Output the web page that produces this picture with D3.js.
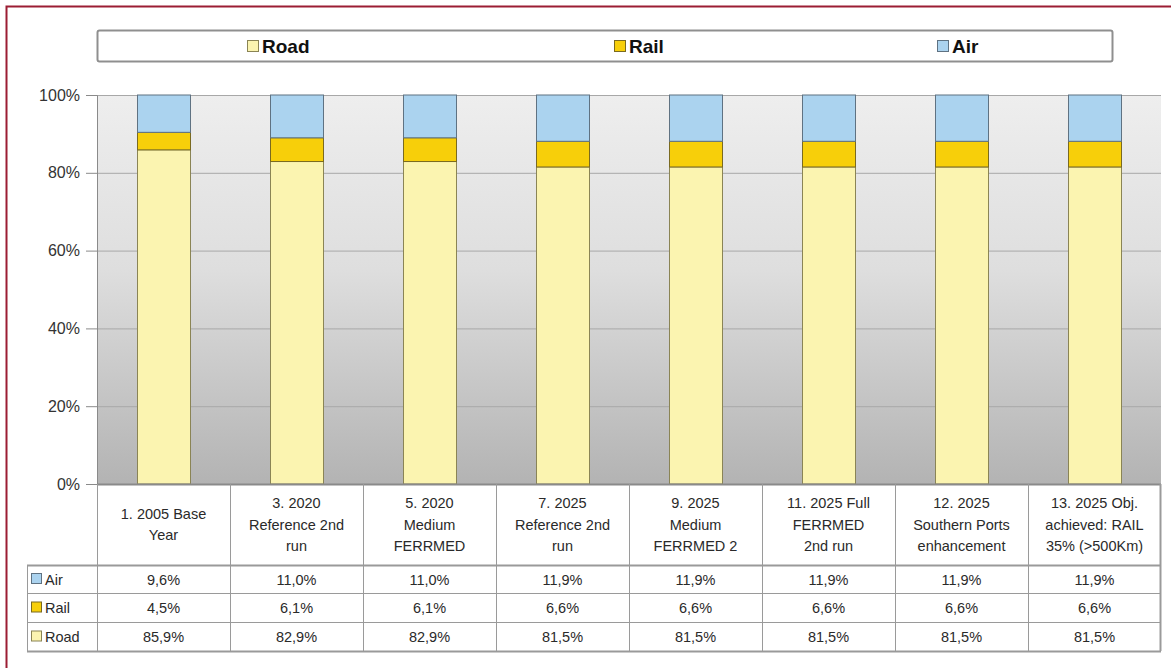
<!DOCTYPE html>
<html>
<head>
<meta charset="utf-8">
<script src="https://cdn.jsdelivr.net/npm/d3@7"></script>
<style>
  body { margin: 0; background: #fff; }
  svg { display: block; font-family: "Liberation Sans", Arial, sans-serif; }
</style>
</head>
<body>
<div id="chart"></div>
<script>
var categories = [
  ["1. 2005 Base", "Year"],
  ["3. 2020", "Reference 2nd", "run"],
  ["5. 2020", "Medium", "FERRMED"],
  ["7. 2025", "Reference 2nd", "run"],
  ["9. 2025", "Medium", "FERRMED 2"],
  ["11. 2025 Full", "FERRMED", "2nd run"],
  ["12. 2025", "Southern Ports", "enhancement"],
  ["13. 2025 Obj.", "achieved: RAIL", "35% (>500Km)"]
];
var road = [85.9, 82.9, 82.9, 81.5, 81.5, 81.5, 81.5, 81.5];
var rail = [4.5, 6.1, 6.1, 6.6, 6.6, 6.6, 6.6, 6.6];
var air  = [9.6, 11.0, 11.0, 11.9, 11.9, 11.9, 11.9, 11.9];
var seriesNames = ["Road", "Rail", "Air"];
var yTicks = [0, 20, 40, 60, 80, 100];

var colors = { Road: "#fbf4b0", Rail: "#f7cf0a", Air: "#abd3ef" };
var strokes = { Road: "#8a8455", Rail: "#7a6a20", Air: "#5f7282" };

var W = 1171, H = 668;
var plotL = 97, plotR = 1161, plotT = 95, plotB = 484;

var svg = d3.select("#chart").append("svg").attr("width", W).attr("height", H);

// frame
svg.append("path").attr("d", "M6.5," + H + " V6.5 H" + W)
  .attr("fill", "none").attr("stroke", "#9b1d33").attr("stroke-width", 2);

var defs = svg.append("defs");
var grad = defs.append("linearGradient").attr("id", "bg").attr("x1", 0).attr("y1", 0).attr("x2", 0).attr("y2", 1);
grad.append("stop").attr("offset", "0%").attr("stop-color", "#eeeeee");
grad.append("stop").attr("offset", "45%").attr("stop-color", "#dedede");
grad.append("stop").attr("offset", "100%").attr("stop-color", "#b3b3b3");

var x = d3.scaleBand().domain(d3.range(categories.length)).range([plotL, plotR]).paddingInner(0).paddingOuter(0);
var y = d3.scaleLinear().domain([0, 100]).range([plotB, plotT]);

svg.append("rect").attr("x", plotL).attr("y", plotT).attr("width", plotR - plotL).attr("height", plotB - plotT)
  .attr("fill", "url(#bg)");

// gridlines
svg.selectAll(".grid").data(yTicks.slice(1)).enter().append("line")
  .attr("x1", plotL).attr("x2", plotR)
  .attr("y1", function(d) { return y(d) + 0.5; }).attr("y2", function(d) { return y(d) + 0.5; })
  .attr("stroke", "#a8a8a8").attr("stroke-width", 1);

// y axis
var yAxis = d3.axisLeft(y).tickValues(yTicks).tickFormat(function(d) { return d + "%"; }).tickSize(11).tickPadding(6);
var ya = svg.append("g").attr("transform", "translate(" + plotL + ",0)").call(yAxis);
ya.select(".domain").attr("stroke", "#8a8a8a");
ya.selectAll(".tick line").attr("stroke", "#8a8a8a");
ya.selectAll(".tick text").attr("font-size", 16).attr("fill", "#333").attr("font-family", "Liberation Sans, Arial, sans-serif");

// stacked bars
var rows = categories.map(function(c, i) { return { i: i, Road: road[i], Rail: rail[i], Air: air[i] }; });
var stack = d3.stack().keys(seriesNames)(rows);
var barW = 53;
stack.forEach(function(layer) {
  svg.append("g").selectAll("rect").data(layer).enter().append("rect")
    .attr("x", function(d) { return x(d.data.i) + (x.bandwidth() - barW) / 2 + 0.5; })
    .attr("y", function(d) { return y(d[1]); })
    .attr("width", barW)
    .attr("height", function(d) { return y(d[0]) - y(d[1]); })
    .attr("fill", colors[layer.key])
    .attr("stroke", strokes[layer.key]).attr("stroke-width", 1);
});

// baseline
svg.append("line").attr("x1", plotL).attr("x2", plotR).attr("y1", plotB + 0.5).attr("y2", plotB + 0.5)
  .attr("stroke", "#8a8a8a").attr("stroke-width", 2);

// data table
var tableLeft = 27;
var rowTops = [565, 593, 622, 651];
var tableColor = "#9a9a9a";
var tbl = svg.append("g");

x.domain().forEach(function(i) {
  tbl.append("line").attr("x1", x(i) + 0.5).attr("x2", x(i) + 0.5).attr("y1", plotB).attr("y2", rowTops[3])
    .attr("stroke", tableColor);
});
tbl.append("line").attr("x1", plotR - 0.5).attr("x2", plotR - 0.5).attr("y1", plotB).attr("y2", rowTops[3])
  .attr("stroke", tableColor).attr("stroke-width", 2);
tbl.append("line").attr("x1", tableLeft + 0.5).attr("x2", tableLeft + 0.5).attr("y1", rowTops[0]).attr("y2", rowTops[3])
  .attr("stroke", tableColor);
rowTops.forEach(function(yy, k) {
  tbl.append("line").attr("x1", tableLeft).attr("x2", plotR).attr("y1", yy + 0.5).attr("y2", yy + 0.5)
    .attr("stroke", tableColor).attr("stroke-width", k === 0 || k === 3 ? 2 : 1);
});

// header text, centred in the cell
var headMid = (plotB + rowTops[0]) / 2, lineH = 21.5;
categories.forEach(function(lines, i) {
  var cx = x(i) + x.bandwidth() / 2;
  var t = tbl.append("text").attr("text-anchor", "middle").attr("font-size", 14.5).attr("fill", "#2a2a2a");
  var y0 = headMid - (lines.length - 1) * lineH / 2 + 5;
  lines.forEach(function(l, j) {
    t.append("tspan").attr("x", cx).attr("y", y0 + j * lineH).text(l);
  });
});

// data rows: Air, Rail, Road
var tableSeries = [["Air", air], ["Rail", rail], ["Road", road]];
tableSeries.forEach(function(s, r) {
  var midY = (rowTops[r] + rowTops[r + 1]) / 2;
  tbl.append("rect").attr("x", 31.5).attr("y", midY - 5.5).attr("width", 10).attr("height", 10)
    .attr("fill", colors[s[0]]).attr("stroke", strokes[s[0]]);
  tbl.append("text").attr("x", 45).attr("y", midY + 5.5).attr("font-size", 14.5).attr("fill", "#2a2a2a").text(s[0]);
  s[1].forEach(function(v, i) {
    tbl.append("text").attr("x", x(i) + x.bandwidth() / 2).attr("y", midY + 5.5)
      .attr("text-anchor", "middle").attr("font-size", 14.5).attr("fill", "#2a2a2a")
      .text(v.toFixed(1).replace(".", ",") + "%");
  });
});

// legend
var leg = svg.append("g");
leg.append("rect").attr("x", 97.5).attr("y", 30.5).attr("width", 1015).attr("height", 31)
  .attr("fill", "#fff").attr("stroke", "#8f8f8f").attr("stroke-width", 2).attr("rx", 2);
var legX = [247, 614, 937];
seriesNames.forEach(function(name, i) {
  leg.append("rect").attr("x", legX[i] + 0.5).attr("y", 40.5).attr("width", 11).attr("height", 11)
    .attr("fill", colors[name]).attr("stroke", strokes[name]);
  leg.append("text").attr("x", legX[i] + 15).attr("y", 53).attr("font-size", 19).attr("font-weight", "bold")
    .attr("fill", "#111").text(name);
});
</script>
</body>
</html>
